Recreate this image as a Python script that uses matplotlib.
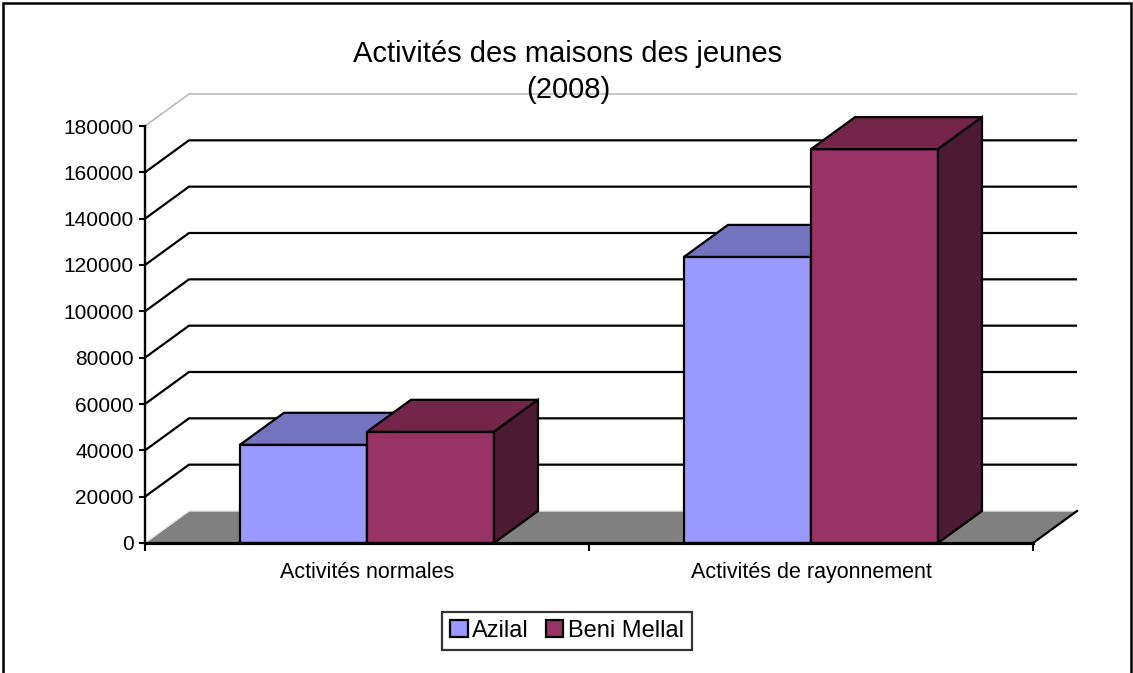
import matplotlib
matplotlib.use("Agg")
import matplotlib.pyplot as plt
from matplotlib.patches import Polygon, Rectangle
import numpy as np

plt.rcParams['font.family'] = ['Liberation Sans', 'DejaVu Sans']

categories = ["Activités normales", "Activités de rayonnement"]
series_names = ["Azilal", "Beni Mellal"]
azilal = [42400, 123500]
beni_mellal = [48000, 170000]
yticks = [0, 20000, 40000, 60000, 80000, 100000, 120000, 140000, 160000, 180000]
title = "Activités des maisons des jeunes\n(2008)"

front_colors = ["#9999FF", "#993366"]
top_colors = ["#7373BF", "#732649"]
side_colors = ["#4D4D80", "#4D1A33"]

W, H = 1133, 673
fig = plt.figure(figsize=(W / 100, H / 100), dpi=100)
ax = fig.add_axes([145 / W, (H - 543) / H, (1033 - 145) / W, (543 - 126) / H])
ax.set_xlim(-0.5, 1.5)
ax.set_ylim(0, 180000)

# depth offsets in data units
dxd = 44 / 444
dyd = 32 / 417 * 180000

# floor
x_lo, x_hi = -0.5, 1.5
floor = Polygon([(x_lo, 0), (x_lo + dxd, dyd), (x_hi + dxd, dyd), (x_hi, 0)],
                closed=True, facecolor="#808080", edgecolor="none", zorder=1, clip_on=False)
ax.add_patch(floor)
ax.plot([x_lo, x_lo + dxd, x_hi + dxd], [0, dyd, dyd], color="#E8E8E8", lw=1.0, zorder=1.5, clip_on=False)
ax.plot([x_hi, x_hi + dxd], [0, dyd], color="black", lw=1.6, zorder=1.6, clip_on=False)

# gridlines (wall)
for v in yticks[1:]:
    col = "black" if v < 180000 else "#B0B0B0"
    lw = 1.6 if v < 180000 else 1.0
    ax.plot([x_lo, x_lo + dxd, x_hi + dxd], [v, v + dyd, v + dyd], color=col, lw=lw,
            zorder=2, clip_on=False, solid_capstyle="butt")

# bars
n = len(series_names)
bw = 127 / 444
x = np.arange(len(categories))
series = [azilal, beni_mellal]
for gi in range(len(categories)):
    for si in range(n):
        v = series[si][gi]
        x0 = x[gi] - bw * n / 2 + si * bw
        x1 = x0 + bw
        z = 10 + gi * 10 + si * 3
        ax.bar([x0], [v], width=bw, align="edge", color=front_colors[si], edgecolor="black",
               linewidth=1.6, zorder=z, label=series_names[si] if gi == 0 else None)
        top = Polygon([(x0, v), (x0 + dxd, v + dyd), (x1 + dxd, v + dyd), (x1, v)], closed=True,
                      facecolor=top_colors[si], edgecolor="black", lw=1.6, zorder=z + 1,
                      clip_on=False, joinstyle="miter")
        side = Polygon([(x1, 0), (x1 + dxd, dyd), (x1 + dxd, v + dyd), (x1, v)], closed=True,
                       facecolor=side_colors[si], edgecolor="black", lw=1.6, zorder=z + 1,
                       clip_on=False, joinstyle="miter")
        ax.add_patch(top)
        ax.add_patch(side)

# axes styling
for s in ["top", "right"]:
    ax.spines[s].set_visible(False)
ax.spines["left"].set_linewidth(1.7)
ax.spines["bottom"].set_linewidth(2.3)
ax.spines["left"].set_zorder(50)
ax.spines["bottom"].set_zorder(50)
ax.set_yticks(yticks)
ax.set_yticklabels([str(t) for t in yticks], fontsize=15)
ax.tick_params(axis="y", direction="out", length=4, width=1.5, pad=4)
ax.set_xticks([-0.5, 0.5, 1.5])
ax.set_xticklabels([])
ax.set_xticks(x, minor=True)
ax.set_xticklabels(categories, minor=True, fontsize=15.5)
ax.tick_params(axis="x", which="major", direction="out", length=6, width=1.5)
ax.tick_params(axis="x", which="minor", length=0, pad=14)
ax.set_facecolor("none")

fig.text(568 / W, 1 - 72 / H, title, ha="center", va="center", fontsize=21, linespacing=1.4)

leg = ax.legend(loc="center", bbox_to_anchor=(567 / W, 1 - 631 / H), bbox_transform=fig.transFigure,
                ncol=2, fontsize=17, frameon=True, fancybox=False, handlelength=0.75, handleheight=0.75,
                handletextpad=0.2, columnspacing=0.7, borderpad=0.35, borderaxespad=0)
leg.get_frame().set_edgecolor("black")
leg.get_frame().set_linewidth(1.6)

fig.patches.append(Rectangle((3 / W, -0.05), (1131 - 3) / W, 1 - 3 / H + 0.05, transform=fig.transFigure,
                             fill=False, edgecolor="black", lw=1.8, zorder=0))

fig.savefig("out.png", dpi=100, facecolor="white")
